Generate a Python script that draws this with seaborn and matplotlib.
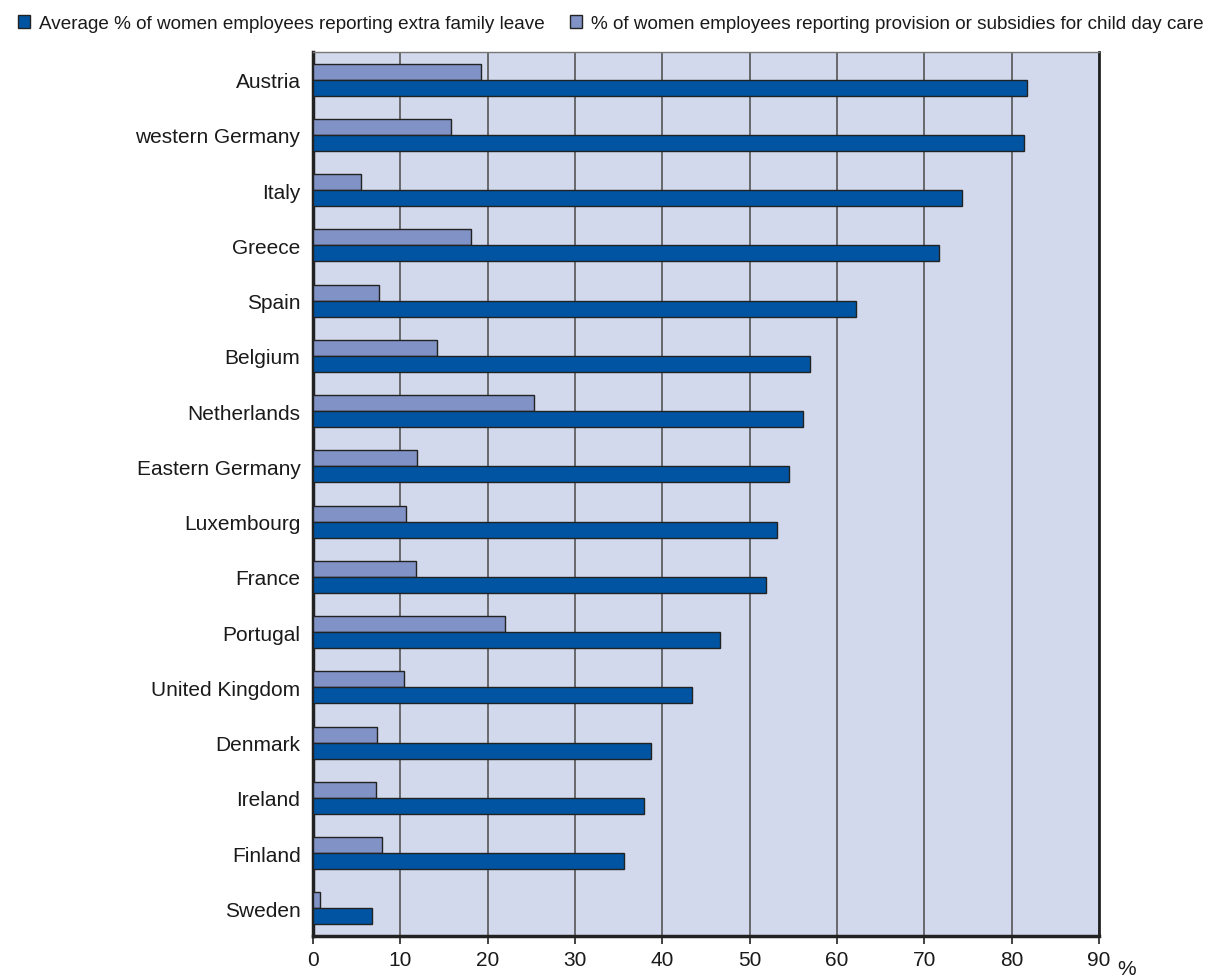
import matplotlib
matplotlib.use("Agg")
import matplotlib.pyplot as plt
from matplotlib.patches import Patch
import seaborn as sns
import pandas as pd

countries = ["Austria", "western Germany", "Italy", "Greece", "Spain", "Belgium",
             "Netherlands", "Eastern Germany", "Luxembourg", "France", "Portugal",
             "United Kingdom", "Denmark", "Ireland", "Finland", "Sweden"]
family_leave = [81.8, 81.4, 74.3, 71.7, 62.2, 56.9, 56.1, 54.5, 53.1, 51.9,
                46.6, 43.4, 38.7, 37.9, 35.6, 6.8]
child_care = [19.2, 15.8, 5.5, 18.1, 7.6, 14.2, 25.3, 11.9, 10.6, 11.8,
              22.0, 10.4, 7.3, 7.2, 7.9, 0.8]
series_names = ["Average % of women employees reporting extra family leave",
                "% of women employees reporting provision or subsidies for child day care"]
x_ticks = [0, 10, 20, 30, 40, 50, 60, 70, 80, 90]

dark = "#0054A2"
light = "#8193C6"
bg = "#D3D9EC"
txt = "#1a1a1a"

sns.set_theme(style="white")
plt.rcParams["font.family"] = ["Liberation Sans", "DejaVu Sans"]

df = pd.DataFrame({
    "country": countries * 2,
    "value": child_care + family_leave,
    "series": [series_names[1]] * len(countries) + [series_names[0]] * len(countries),
})

fig = plt.figure(figsize=(12.07, 9.78), dpi=100)
ax = fig.add_axes([313 / 1207, 1 - 937 / 978, (1099 - 313) / 1207, (937 - 53) / 978])
ax.set_facecolor(bg)

sns.barplot(data=df, y="country", x="value", hue="series",
            hue_order=[series_names[1], series_names[0]],
            palette=[light, dark], saturation=1, orient="h", width=0.58, dodge=True,
            edgecolor="#222222", linewidth=1.0, ax=ax, legend=False, zorder=3)

ax.set_xlim(0, 90)
ax.set_ylim(15.5, -0.5)
ax.set_xticks(x_ticks)
ax.set_xticklabels([str(t) for t in x_ticks], fontsize=15, color=txt)
ax.tick_params(axis="y", labelsize=15, labelcolor=txt, length=0, pad=9)
ax.tick_params(axis="x", length=6, width=1.2, color="#222222", bottom=True, pad=4)
ax.set_xlabel("")
ax.set_ylabel("")
ax.grid(axis="x", color="#555555", linewidth=1.2, zorder=0)
ax.set_axisbelow(True)

for side, sp in ax.spines.items():
    sp.set_visible(True)
    sp.set_color("#222222")
ax.spines["left"].set_linewidth(2.5)
ax.spines["bottom"].set_linewidth(2.5)
ax.spines["right"].set_linewidth(2.0)
ax.spines["top"].set_linewidth(1.0)
ax.spines["top"].set_color("#777777")

fig.text(1127 / 1207, 1 - 970 / 978, "%", fontsize=15, color=txt,
         ha="center", va="center")

handles = [Patch(facecolor=dark, edgecolor="#222222", label=series_names[0]),
           Patch(facecolor=light, edgecolor="#222222", label=series_names[1])]
fig.legend(handles=handles, loc="upper left", bbox_to_anchor=(0.002, 0.999), ncol=2,
           frameon=False, fontsize=13.6, handlelength=0.65, handleheight=0.65,
           handletextpad=0.5, columnspacing=1.3, labelcolor=txt, borderpad=0.3)

fig.savefig("out.png", dpi=100)
